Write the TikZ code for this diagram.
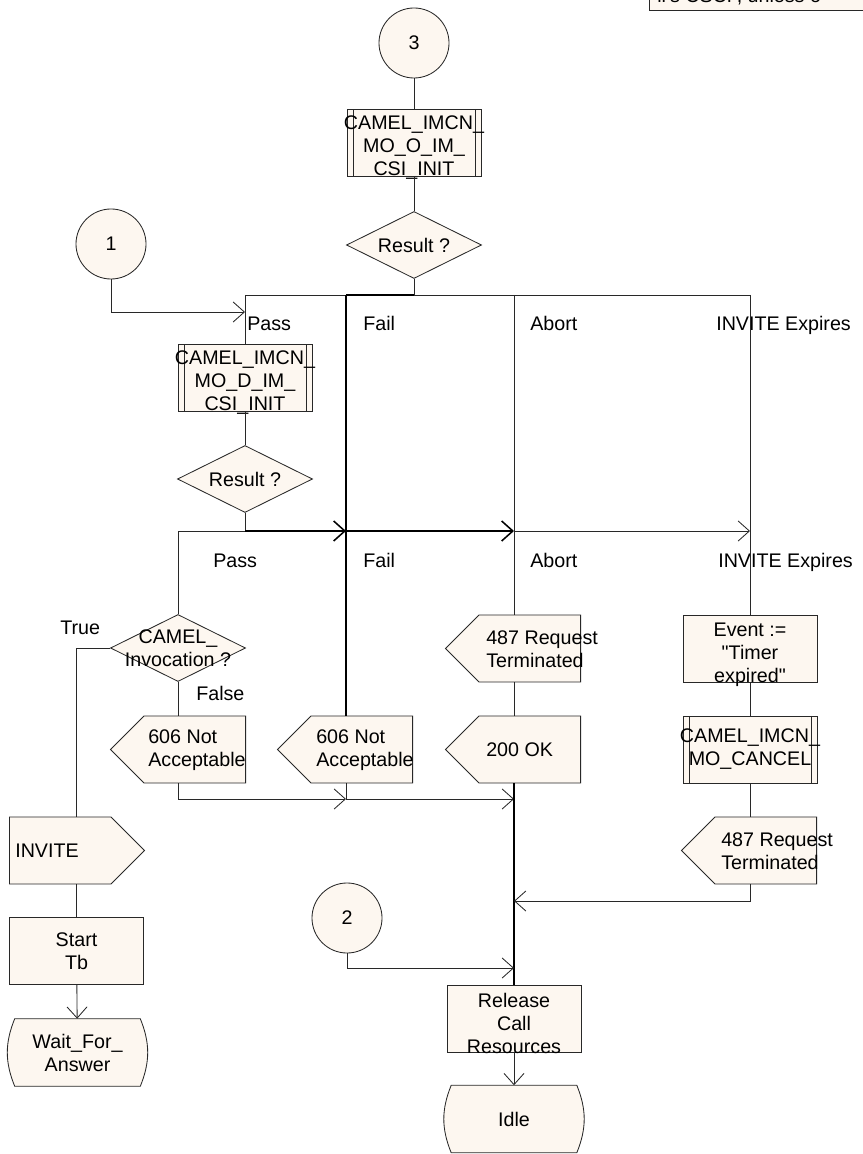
\documentclass[tikz,border=0pt]{standalone}
\usepackage{fontspec}
\setmainfont{Liberation Sans}
\usetikzlibrary{arrows.meta}
\usetikzlibrary{shapes.geometric}
\usetikzlibrary{shapes.symbols}
\usetikzlibrary{backgrounds}
\tikzset{>={Straight Barb[length=2.8mm,width=5mm]}}
\definecolor{sdlfill}{RGB}{253,247,240}
\definecolor{sdlline}{RGB}{40,40,40}
\tikzset{
  txt/.style={align=center, inner sep=0pt, font=\fontsize{14}{16.3}\selectfont},
  lbl/.style={txt, anchor=base west},
  sdl/.style={draw=sdlline, fill=sdlfill, line width=.6pt, inner sep=0pt},
  conn/.style={sdl, circle, minimum size=1.75cm},
  task/.style={sdl, rectangle, minimum width=3.35cm, minimum height=1.675cm},
  proc/.style={task, path picture={
      \draw[sdlline, line width=.6pt] ([xshift=.15cm]path picture bounding box.north west)
        -- ([xshift=.15cm]path picture bounding box.south west);
      \draw[sdlline, line width=.6pt] ([xshift=-.15cm]path picture bounding box.north east)
        -- ([xshift=-.15cm]path picture bounding box.south east);}},
  decision/.style={sdl, diamond, minimum width=3.375cm, minimum height=1.675cm},
  sendl/.style={sdl, signal, signal to=west, minimum width=3.375cm, minimum height=1.675cm, anchor=east},
  sendr/.style={sdl, signal, signal to=east, minimum width=3.375cm, minimum height=1.675cm, anchor=west},
  statebox/.style={txt, rectangle, minimum width=3.125cm, minimum height=1.675cm},
  stateline/.style={draw=sdlline, fill=sdlfill, line width=.6pt},
  flow/.style={draw=sdlline, line width=.6pt},
  bold/.style={draw=black, line width=1.1pt},
}
\begin{document}
\begin{tikzpicture}[x=0.025cm, y=-0.025cm]
  \useasboundingbox (0,0) rectangle (862,1154);
  % note in the corner
  \node[sdl, anchor=south west, minimum width=6cm, minimum height=1.5cm] (note) at (649,11) {};
  \node[txt, anchor=base west] (notetxt) at (657,2.5) {ll's CSCF, unless o};
  % nodes
  \node[conn, label={[txt]center:3}] (c3) at (414,43) {};
  \node[proc, label={[txt, yshift=-.12cm]center:{CAMEL\_IMCN\_\\MO\_O\_IM\_\\CSI\_INIT}}] (p1) at (414,143) {};
  \node[decision, label={[txt]center:Result ?}] (r1) at (414,245) {};
  \node[conn, label={[txt]center:1}] (c1) at (111,244) {};
  \node[proc, label={[txt, yshift=-.12cm]center:{CAMEL\_IMCN\_\\MO\_D\_IM\_\\CSI\_INIT}}] (p2) at (245,378) {};
  \node[decision, label={[txt]center:Result ?}] (r2) at (245,479) {};
  \node[decision, label={[txt]center:{CAMEL\_\\Invocation ?}}] (inv) at (178,648) {};
  \node[sendl] (n606a) at (246,749.5) {};
  \node[sendl] (n606b) at (413,749.5) {};
  \node[sendl] (s487a) at (581,648.5) {};
  \node[sendl] (ok200) at (581,749.5) {};
  \node[task, label={[txt, yshift=-.15cm]center:{Event :=\\\textquotedbl Timer\\expired\textquotedbl}}] (evt) at (750,648.5) {};
  \node[proc, label={[txt]center:{CAMEL\_IMCN\_\\MO\_CANCEL}}] (pcan) at (750,749.5) {};
  \node[sendl] (s487b) at (817,850.5) {};
  \node[sendr] (sinv) at (9,850.5) {};
  \node[task, label={[txt]center:{Start\\Tb}}] (stb) at (76.5,951) {};
  \node[statebox] (wfa) at (77.5,1052.5) {Wait\_For\_\\Answer};
  \node[conn, label={[txt]center:2}] (c2) at (347,918) {};
  \node[task, label={[txt, yshift=-.12cm]center:{Release\\Call\\Resources}}] (rel) at (514,1019) {};
  \node[statebox] (idle) at (514,1119) {Idle};
  \begin{scope}[on background layer]
    \foreach \s in {wfa, idle}
      \draw[stateline] (\s.north west) to[bend right=22] (\s.south west)
        -- (\s.south east) to[bend right=22] (\s.north east) -- cycle;
  \end{scope}
  % texts of the signals
  \node[txt, align=left, anchor=west] (t606a) at (148,750) {606 Not\\Acceptable};
  \node[txt, align=left, anchor=west] (t606b) at (316,750) {606 Not\\Acceptable};
  \node[txt, align=left, anchor=west] (t487a) at (486,649) {487 Request\\Terminated};
  \node[txt, align=left, anchor=west] (t200) at (486,750) {200 OK};
  \node[txt, align=left, anchor=west] (t487b) at (721,851) {487 Request\\Terminated};
  \node[txt, align=left, anchor=west] (tinv) at (15,851) {INVITE};
  % branch labels
  \node[lbl] (pass1) at (247,331) {Pass};
  \node[lbl] (fail1) at (363,331) {Fail};
  \node[lbl] (abort1) at (530,331) {Abort};
  \node[lbl] (exp1) at (716,331) {INVITE Expires};
  \node[lbl] (pass2) at (213,567) {Pass};
  \node[lbl] (fail2) at (363,567) {Fail};
  \node[lbl] (abort2) at (530,567) {Abort};
  \node[lbl] (exp2) at (718,567) {INVITE Expires};
  \node[lbl] (true) at (60,634) {True};
  \node[lbl] (false) at (196,700) {False};
  % branch points
  \coordinate (b1) at (414,295);
  \coordinate (b1p) at (245,295);
  \coordinate (b1f) at (346,295);
  \coordinate (b1a) at (514,295);
  \coordinate (b1e) at (750,295);
  \coordinate (m1) at (245,312);
  \coordinate (b2) at (245,531);
  \coordinate (b2l) at (178,531);
  \coordinate (j2f) at (346,531);
  \coordinate (j2a) at (514,531);
  \coordinate (j2e) at (750,531);
  \coordinate (j3f) at (346,799);
  \coordinate (j3a) at (514,799);
  \coordinate (j4) at (514,901);
  \coordinate (j5) at (514,968);
  % lines
  \draw[flow] (c3) -- (p1);
  \draw[flow] (p1) -- (r1);
  \draw[flow] (r1.south) -- (b1);
  \draw[flow] (b1p) -- (b1f);
  \draw[bold] (b1f) -- (b1);
  \draw[flow] (b1) -- (b1e);
  \draw[flow] (b1p) -- (p2.north);
  \draw[bold] (b1f) -- (b1f |- n606b.north);
  \draw[flow] (b1a) -- (b1a |- s487a.north);
  \draw[flow] (b1e) -- (evt.north);
  \draw[flow, ->] (c1.south) |- (m1);
  \draw[flow] (p2) -- (r2);
  \draw[flow] (r2.south) -- (b2);
  \draw[flow] (b2l) -- (b2);
  \draw[bold, ->] (b2) -- (j2f);
  \draw[bold, ->] (j2f) -- (j2a);
  \draw[flow, ->] (j2a) -- (j2e);
  \draw[flow] (b2l) -- (inv.north);
  \draw[flow] (inv.west) -| (stb.north |- sinv.north);
  \draw[flow] (inv.south) -- (inv.south |- n606a.north);
  \draw[flow, ->] (inv.south |- n606a.south) |- (j3f);
  \draw[flow] (j3f |- n606b.south) -- (j3f);
  \draw[flow, ->] (j3f) -- (j3a);
  \draw[flow] (j2a |- s487a.south) -- (j2a |- ok200.north);
  \draw[bold] (j2a |- ok200.south) -- (rel.north);
  \draw[flow] (evt) -- (pcan);
  \draw[flow] (pcan) -- (pcan |- s487b.north);
  \draw[flow, ->] (pcan |- s487b.south) |- (j4);
  \draw[flow, ->] (c2.south) |- (j5);
  \draw[flow, ->] (rel) -- (idle);
  \draw[flow] (stb |- sinv.south) -- (stb);
  \draw[flow, ->] (stb) -- (wfa);
\end{tikzpicture}
\end{document}
